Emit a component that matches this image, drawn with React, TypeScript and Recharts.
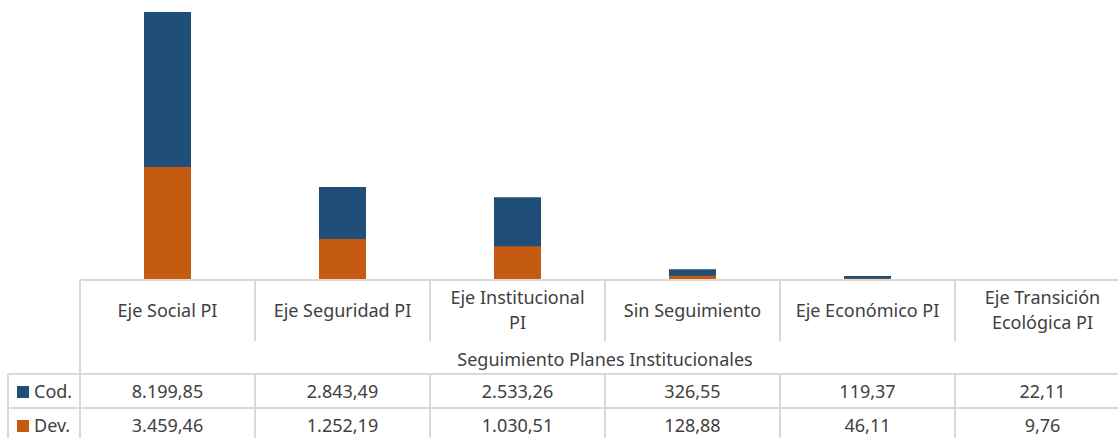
import React from 'react';
import { BarChart, Bar, XAxis, YAxis } from 'recharts';

const categories = ['Eje Social PI', 'Eje Seguridad PI', 'Eje Institucional PI', 'Sin Seguimiento', 'Eje Económico PI', 'Eje Transición Ecológica PI'];
const categoryLines = [['Eje Social PI'], ['Eje Seguridad PI'], ['Eje Institucional', 'PI'], ['Sin Seguimiento'], ['Eje Económico PI'], ['Eje Transición', 'Ecológica PI']];
const codValues = [8199.85, 2843.49, 2533.26, 326.55, 119.37, 22.11];
const devValues = [3459.46, 1252.19, 1030.51, 128.88, 46.11, 9.76];
const axisTitle = 'Seguimiento Planes Institucionales';

const data = categories.map((name, i) => ({ name, cod: codValues[i], dev: devValues[i] }));

const COD = '#1F4E79';
const DEV = '#C55A11';
const GRID = '#d9d9d9';
const TEXT = '#404040';
const FONT = '"Noto Sans", sans-serif';
const COL_W = 175;

// 1.234,56 style
const fmt = (v: number) => {
  const [int, dec] = v.toFixed(2).split('.');
  return int.replace(/\B(?=(\d{3})+(?!\d))/g, '.') + ',' + dec;
};

const TableTick = (props: any) => {
  const { x, index } = props;
  const left = x - COL_W / 2;
  const right = x + COL_W / 2;
  const last = index === categories.length - 1;
  const lines = categoryLines[index] || [];
  const lineY = lines.length === 1 ? [317] : [304, 329];
  const ln = { stroke: GRID, strokeWidth: 2 };
  return (
    <g fontFamily={FONT} fontSize={18} fill={TEXT}>
      {/* column borders */}
      <line x1={left} x2={left} y1={280} y2={index === 0 ? 442 : 341} {...ln} />
      <line x1={left} x2={left} y1={374} y2={442} {...ln} />
      {last && <line x1={right} x2={right} y1={280} y2={341} {...ln} />}
      {last && <line x1={right} x2={right} y1={374} y2={442} {...ln} />}
      <line x1={left} x2={right} y1={374} y2={374} {...ln} />
      <line x1={left} x2={right} y1={408} y2={408} {...ln} />
      <line x1={left} x2={right} y1={442} y2={442} {...ln} />
      {lines.map((t, i) => (
        <text key={i} x={x} y={lineY[i]} textAnchor="middle" fill={TEXT}>{t}</text>
      ))}
      <text x={x} y={398} textAnchor="middle" fill={TEXT}>{fmt(codValues[index])}</text>
      <text x={x} y={432} textAnchor="middle" fill={TEXT}>{fmt(devValues[index])}</text>
      {index === 0 && (
        <g>
          <text x={left + COL_W * 3} y={366} textAnchor="middle" fill={TEXT}>{axisTitle}</text>
          <line x1={8} x2={left} y1={374} y2={374} {...ln} />
          <line x1={8} x2={left} y1={408} y2={408} {...ln} />
          <line x1={8} x2={8} y1={374} y2={442} {...ln} />
          <rect x={17} y={386} width={12} height={12} fill={COD} />
          <text x={34} y={398} fill={TEXT}>Cod.</text>
          <rect x={17} y={420} width={12} height={12} fill={DEV} />
          <text x={34} y={432} fill={TEXT}>Dev.</text>
        </g>
      )}
    </g>
  );
};

export default function App() {
  return (
    <div style={{ position: 'absolute', left: 0, top: 0, width: 1118, height: 438, overflow: 'hidden', background: '#fff' }}>
      <BarChart width={1130} height={438} data={data} margin={{ top: 12, right: 0, left: 80, bottom: 0 }}>
        <XAxis
          dataKey="name"
          xAxisId="cod"
          height={158}
          interval={0}
          tickLine={false}
          axisLine={{ stroke: GRID, strokeWidth: 2 }}
          tick={<TableTick />}
        />
        <XAxis dataKey="name" xAxisId="dev" hide />
        <YAxis hide domain={[0, 'dataMax']} />
        <Bar dataKey="cod" xAxisId="cod" fill={COD} barSize={47} isAnimationActive={false} />
        <Bar dataKey="dev" xAxisId="dev" fill={DEV} barSize={47} isAnimationActive={false} />
      </BarChart>
    </div>
  );
}
